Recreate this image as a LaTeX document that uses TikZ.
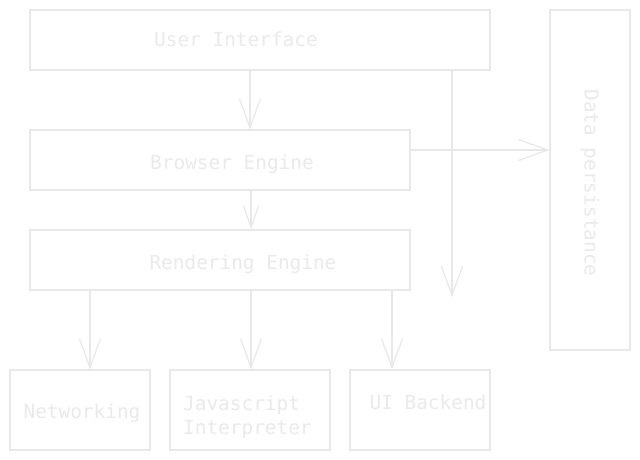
\documentclass[tikz,border=0pt]{standalone}
\usepackage{fontspec}
\setmonofont{DejaVu Sans Mono}
\usetikzlibrary{arrows.meta}

\definecolor{sketch}{RGB}{232,232,232}
\definecolor{sketchtext}{RGB}{234,234,234}

\begin{document}
\begin{tikzpicture}[x=1pt,y=-1pt,
  box/.style={draw=sketch, line width=1.2pt, inner sep=0pt},
  lbl/.style={text=sketchtext, font=\ttfamily\fontsize{19.4}{24}\selectfont, inner sep=0pt},
  arr/.style={draw=sketch, line width=1.2pt, -{Straight Barb[length=29pt,width=21pt]}}]
\useasboundingbox[fill=white] (0,0) rectangle (640,460);

% boxes
\node[box, minimum width=460pt, minimum height=60pt] (ui) at (260,40) {};
\node[box, minimum width=380pt, minimum height=60pt] (be) at (220,160) {};
\node[box, minimum width=380pt, minimum height=60pt] (re) at (220,260) {};
\node[box, minimum width=140pt, minimum height=80pt] (net) at (80,410) {};
\node[box, minimum width=160pt, minimum height=80pt] (js) at (250,410) {};
\node[box, minimum width=140pt, minimum height=80pt] (uib) at (420,410) {};
\node[box, minimum width=80pt, minimum height=340pt] (dp) at (590,180) {};

% labels
\node[lbl, anchor=base] at (236,47) {User Interface};
\node[lbl, anchor=base] at (232,169) {Browser Engine};
\node[lbl, anchor=base] at (243,269) {Rendering Engine};
\node[lbl, anchor=base] at (82,418) {Networking};
\node[lbl, anchor=base west] at (183,410) {Javascript};
\node[lbl, anchor=base west] at (183,434) {Interpreter};
\node[lbl, anchor=base] at (428,409) {UI Backend};
\node[lbl, rotate=-90] at (590,183) {Data persistance};

% connectors
\coordinate (free) at (452,297);
\draw[arr] (ui.south -| 250,0) -- (be.north -| 250,0);
\draw[arr] (ui.south -| 452,0) -- (free);
\draw[arr] (be.east |- 0,150) -- (dp.west |- 0,150);
\draw[arr, -{Straight Barb[length=22pt,width=15pt]}] (be.south -| 251,0) -- (re.north -| 251,0);
\draw[arr] (re.south -| 90,0) -- (net.north -| 90,0);
\draw[arr] (re.south -| 251,0) -- (js.north -| 251,0);
\draw[arr] (re.south -| 392,0) -- (uib.north -| 392,0);
\end{tikzpicture}
\end{document}
